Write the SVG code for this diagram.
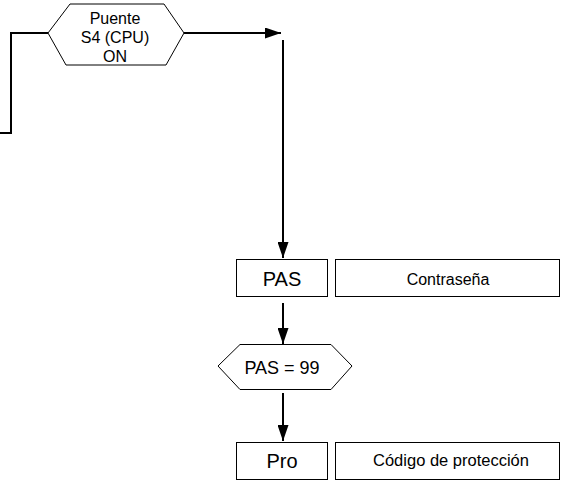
<svg xmlns="http://www.w3.org/2000/svg" width="564" height="495" viewBox="0 0 564 495">
<style>
.box{fill:#fff;stroke:#000;stroke-width:1}
.ln{fill:none;stroke:#000;stroke-width:2}
.t{font-family:"Liberation Sans",Arial,sans-serif;fill:#000;text-anchor:middle}
.s{font-size:16px}
.b{font-size:20px}
</style>
<defs>
<marker id="ah" viewBox="0 0 16 11" refX="16" refY="5.5" markerWidth="16" markerHeight="11" markerUnits="userSpaceOnUse" orient="auto">
<path d="M0,0 L16,5.5 L0,11 Z" fill="#000"/>
</marker>
</defs>
<g id="connectors">
<polyline class="ln" points="48,33 11,33 11,133 0,133"/>
<line class="ln" x1="184" y1="33" x2="281" y2="33" marker-end="url(#ah)"/>
<line class="ln" x1="283" y1="40" x2="283" y2="258" marker-end="url(#ah)"/>
<line class="ln" x1="283" y1="303" x2="283" y2="344" marker-end="url(#ah)"/>
<line class="ln" x1="283" y1="393" x2="283" y2="441" marker-end="url(#ah)"/>
</g>
<g id="puente">
<polygon class="box" points="48,33 70,4 164,4 184,33 166,65 66,65"/>
<text class="t s" x="115" y="24">Puente</text>
<text class="t s" x="115" y="43">S4 (CPU)</text>
<text class="t s" x="115" y="62">ON</text>
</g>
<g id="pas">
<rect class="box" x="236.5" y="259.5" width="91" height="37"/>
<text class="t b" x="282" y="286">PAS</text>
</g>
<g id="contrasena">
<rect class="box" x="335.5" y="259.5" width="224" height="37"/>
<text class="t s" x="448" y="285">Contraseña</text>
</g>
<g id="pas99">
<polygon class="box" points="218,366 240,344.5 331,344.5 352,366 331,389.5 240,389.5"/>
<text class="t" x="282" y="374" font-size="18px">PAS = 99</text>
</g>
<g id="pro">
<rect class="box" x="236.5" y="442.5" width="91" height="37"/>
<text class="t b" x="282" y="468">Pro</text>
</g>
<g id="codigo">
<rect class="box" x="335.5" y="442.5" width="224" height="37"/>
<text class="t" x="451" y="466" font-size="16.5px">Código de protección</text>
</g>
</svg>
